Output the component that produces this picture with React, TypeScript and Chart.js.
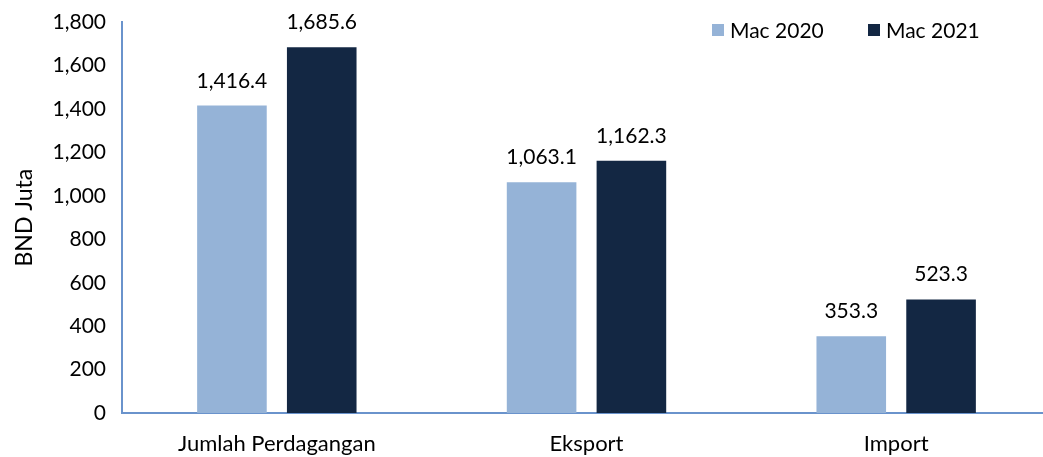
import React, { useEffect, useRef } from "react";
import { Chart, registerables } from "chart.js";

Chart.register(...registerables);

const categories = ["Jumlah Perdagangan", "Eksport", "Import"];
const seriesNames = ["Mac 2020", "Mac 2021"];
const mac2020 = [1416.4, 1063.1, 353.3];
const mac2021 = [1685.6, 1162.3, 523.3];
const colors = ["#95B3D7", "#132743"];
const FONT = "Lato, 'Liberation Sans', sans-serif";

const fmt = (v: number) =>
  v.toLocaleString("en-US", { minimumFractionDigits: 1, maximumFractionDigits: 1 });

const labelPlugin = {
  id: "valueLabels",
  afterDatasetsDraw(chart: any) {
    const ctx = chart.ctx;
    ctx.save();
    ctx.font = `21px ${FONT}`;
    ctx.fillStyle = "#000";
    ctx.textAlign = "center";
    ctx.textBaseline = "alphabetic";
    chart.data.datasets.forEach((ds: any, i: number) => {
      const meta = chart.getDatasetMeta(i);
      meta.data.forEach((bar: any, j: number) => {
        ctx.fillText(fmt(ds.data[j]), bar.x, bar.y - 18);
      });
    });
    ctx.restore();
  },
};

const legendPlugin = {
  id: "customLegend",
  afterDraw(chart: any) {
    const ctx = chart.ctx;
    ctx.save();
    ctx.font = `21px ${FONT}`;
    ctx.textBaseline = "middle";
    ctx.textAlign = "left";
    const xs = [712, 868];
    const y = 30;
    chart.data.datasets.forEach((ds: any, i: number) => {
      ctx.fillStyle = ds.backgroundColor;
      ctx.fillRect(xs[i], y - 6, 12, 12);
      ctx.fillStyle = "#000";
      ctx.fillText(ds.label, xs[i] + 18, y + 1);
    });
    ctx.restore();
  },
};

const CW = 1051;
const CH = 457;

export default function App() {
  const ref = useRef<HTMLCanvasElement>(null);
  useEffect(() => {
    if (!ref.current) return;
    const chart = new Chart(ref.current, {
      type: "bar",
      data: {
        labels: categories,
        datasets: [
          { label: seriesNames[0], data: mac2020, backgroundColor: colors[0] },
          { label: seriesNames[1], data: mac2021, backgroundColor: colors[1] },
        ],
      },
      options: {
        animation: false,
        responsive: false,
        maintainAspectRatio: false,
        layout: { padding: { top: 0, right: 0, left: 0, bottom: 0 } },
        datasets: {
          bar: { categoryPercentage: 0.58, barPercentage: 0.775 },
        },
        plugins: {
          legend: { display: false },
          tooltip: { enabled: false },
        },
        scales: {
          x: {
            grid: { display: false, drawTicks: false },
            border: { display: true, color: "#6A93CC", width: 2 },
            ticks: { font: { size: 22, family: FONT }, color: "#000", padding: 18 },
            afterFit: (s: any) => {
              s.height = 44;
            },
          },
          y: {
            min: 0,
            max: 1800,
            grid: { display: false, drawTicks: false },
            border: { display: true, color: "#6A93CC", width: 2 },
            ticks: {
              stepSize: 200,
              font: { size: 21, family: FONT, lineHeight: 0.6 },
              color: "#000",
              padding: 16,
              callback: (v: any) => Number(v).toLocaleString("en-US"),
            },
            title: {
              display: true,
              text: "BND Juta",
              font: { size: 23, family: FONT },
              color: "#000",
              padding: { top: 11, bottom: 0 },
            },
            afterFit: (s: any) => {
              s.width = 122;
            },
          },
        },
      },
      plugins: [labelPlugin, legendPlugin],
    });
    return () => chart.destroy();
  }, []);
  return (
    <div
      style={{
        position: "fixed",
        left: 0,
        top: 0,
        width: 1043,
        height: 457,
        overflow: "hidden",
        background: "#fff",
      }}
    >
      <canvas ref={ref} width={CW} height={CH} style={{ width: CW, height: CH, display: "block" }} />
    </div>
  );
}
